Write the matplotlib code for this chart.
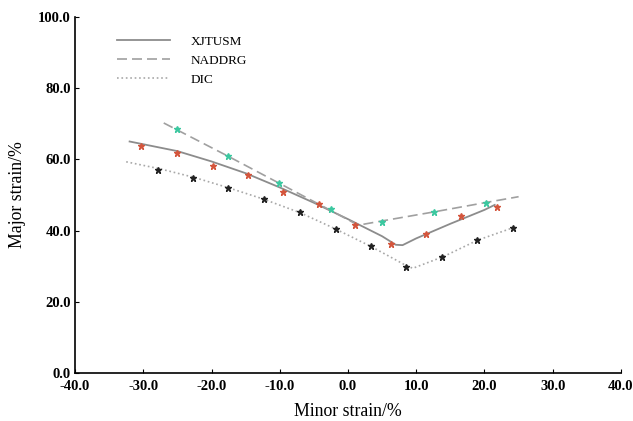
import matplotlib
matplotlib.use("Agg")
from matplotlib import pyplot as plt
from matplotlib.ticker import FormatStrFormatter

plt.rcParams['font.family'] = ['Liberation Serif', 'DejaVu Serif']

# fitted curves
xjtusm_x = [-32.0, -25.0, -20.0, -15.0, -10.0, -5.0, 0.0, 5.0, 7.0, 8.0, 10.0, 15.0, 20.0, 21.5]
xjtusm_y = [65.0, 62.3, 59.4, 56.1, 52.1, 47.8, 43.2, 38.4, 36.0, 35.9, 37.8, 41.9, 45.8, 47.2]

naddrg_x = [-27.0, -17.5, -10.0, -2.5, 1.5, 5.0, 12.5, 20.0, 25.0]
naddrg_y = [70.2, 60.8, 53.2, 45.6, 41.5, 42.7, 45.2, 47.8, 49.5]

dic_x = [-32.5, -27.5, -22.5, -17.5, -12.5, -7.0, -2.0, 3.5, 8.5, 9.5, 14.0, 19.0, 24.2]
dic_y = [59.3, 57.3, 54.9, 52.0, 48.9, 45.0, 40.6, 35.4, 30.2, 29.4, 32.7, 37.3, 40.8]

# measured points
red_x = [-30.3, -25.0, -19.8, -14.6, -9.5, -4.2, 1.0, 6.3, 11.4, 16.5, 21.8]
red_y = [63.8, 61.8, 58.1, 55.6, 50.8, 47.5, 41.6, 36.2, 39.0, 44.1, 46.6]

green_x = [-25.0, -17.6, -10.1, -2.5, 5.0, 12.6, 20.2]
green_y = [68.5, 61.0, 53.4, 46.1, 42.4, 45.2, 47.8]

black_x = [-27.8, -22.7, -17.6, -12.3, -7.0, -1.8, 3.4, 8.5, 13.8, 18.9, 24.2]
black_y = [57.0, 54.8, 52.0, 48.9, 45.2, 40.4, 35.7, 29.8, 32.6, 37.4, 40.7]

x_ticks = [-40, -30, -20, -10, 0, 10, 20, 30, 40]
y_ticks = [0, 20, 40, 60, 80, 100]

fig = plt.figure(figsize=(6.33, 4.21), dpi=100)
ax = fig.add_axes([0.1185, 0.114, 0.8625, 0.846])

ax.plot(xjtusm_x, xjtusm_y, '-', color='#8c8c8c', lw=1.3, label='XJTUSM')
ax.plot(naddrg_x, naddrg_y, '--', color='#a0a0a0', lw=1.2, dashes=(6, 3), label='NADDRG')
ax.plot(dic_x, dic_y, ':', color='#a8a8a8', lw=1.2, label='DIC')

ax.plot(red_x, red_y, '*', color='#d4553c', ms=4.5, ls='none')
ax.plot(green_x, green_y, '*', color='#3cc8a0', ms=4.5, ls='none')
ax.plot(black_x, black_y, '*', color='#222222', ms=4.5, ls='none')

ax.set_xlim(-40, 40)
ax.set_ylim(0, 100)
ax.set_xticks(x_ticks)
ax.set_yticks(y_ticks)
ax.xaxis.set_major_formatter(FormatStrFormatter('%.1f'))
ax.yaxis.set_major_formatter(FormatStrFormatter('%.1f'))
ax.tick_params(direction='in', length=3, labelsize=10.5)
ax.tick_params(axis='x', pad=5)
ax.tick_params(axis='y', pad=3)
for lab in ax.get_xticklabels() + ax.get_yticklabels():
    lab.set_fontweight('bold')

for s in ['top', 'right']:
    ax.spines[s].set_visible(False)
ax.spines['left'].set_linewidth(1.2)
ax.spines['bottom'].set_linewidth(1.2)

ax.set_xlabel('Minor strain/%', fontsize=12.8, labelpad=7)
ax.set_ylabel('Major strain/%', fontsize=12.8, labelpad=9)

ax.legend(loc='upper left', bbox_to_anchor=(0.055, 0.98), frameon=False,
          fontsize=9.5, handlelength=4.0, handletextpad=1.6, labelspacing=0.5)

fig.savefig('out.png', dpi=100)
